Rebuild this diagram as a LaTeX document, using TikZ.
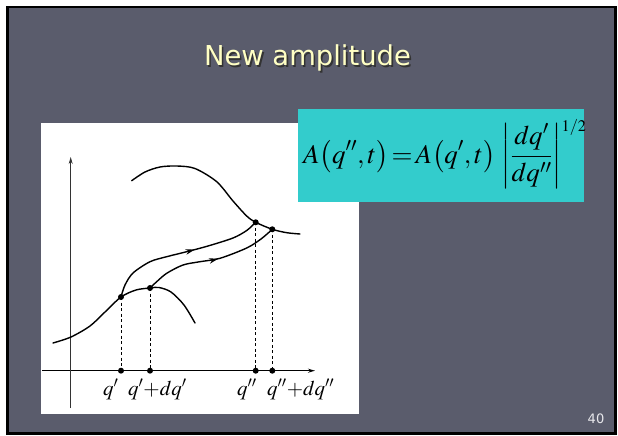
\documentclass[tikz,border=0pt]{standalone}
\usepackage[no-math]{fontspec}
\usepackage{mathptmx}
\newfontfamily\slidefont{DejaVu Sans}
\usetikzlibrary{arrows.meta,positioning,decorations.markings}
\definecolor{SlideGrey}{HTML}{5A5C6C}
\definecolor{SlideBlack}{HTML}{000000}
\definecolor{SlideTitle}{HTML}{FFFFC4}
\definecolor{SlideNumber}{HTML}{E8E8EC}
\definecolor{FormulaCyan}{HTML}{33CCCC}
\tikzset{
    % Slide frame
    slideframe/.style={
        draw=SlideBlack,
        fill=SlideGrey,
        line width=2.5pt
    },
    % Title text
    titletext/.style={
        anchor=base,
        inner sep=0pt,
        text=SlideTitle,
        font=\slidefont\fontsize{27.4}{30}\selectfont
    },
    % Title shadow
    titleshadow/.style={
        titletext,
        text=black!80
    },
    % White picture area
    imagebox/.style={
        fill=white,
        inner sep=0pt,
        minimum width=318pt,
        minimum height=291pt
    },
    % Formula box
    formulabox/.style={
        fill=FormulaCyan,
        inner sep=0pt,
        minimum width=286pt,
        minimum height=93pt
    },
    % Formula text
    formulatext/.style={
        anchor=base west,
        inner sep=0pt,
        font=\fontsize{27}{32}\selectfont
    },
    % Axis lines
    xaxis/.style={
        -{Stealth[length=7pt,width=4pt]},
        line width=1.4pt
    },
    yaxis/.style={
        -{Stealth[length=7pt,width=4pt]},
        line width=0.8pt,
        draw=black!80
    },
    % Curves
    curveline/.style={
        line width=1.4pt,
        line cap=round
    },
    % Trajectory with an arrow along it
    trajline/.style={
        curveline,
        postaction={decorate},
        decoration={markings,
            mark=at position #1 with {\arrow{Stealth[length=9pt,width=5.5pt]}}}
    },
    % Dashed drop to the axis
    dropline/.style={
        dashed,
        dash pattern=on 3pt off 2.5pt,
        line width=1pt
    },
    % Dot
    dotnode/.style={
        circle,
        fill=black,
        inner sep=0pt,
        minimum size=6pt
    },
    % Axis label
    qlabel/.style={
        anchor=base west,
        inner sep=0pt,
        font=\fontsize{21}{24}\selectfont
    },
    % Page number
    pagenum/.style={
        anchor=base,
        inner sep=0pt,
        text=SlideNumber,
        font=\slidefont\fontsize{13}{15}\selectfont
    }
}

\begin{document}
\begin{tikzpicture}[x=1pt,y=-1pt]
    \useasboundingbox (0,0) rectangle (618,436);
    \fill[white] (0,0) rectangle (618,436);
    \draw[slideframe] (7.5,7) rectangle (615.5,433.5);

    % title
    \node[titleshadow] (tshadow) at (309.2,67.7) {New amplitude};
    \node[titletext] (title) at (307.5,66) {New amplitude};

    % picture area and formula
    \node[imagebox] (img) at (200,268.5) {};
    \node[formulabox] (fbox) at (441,155.5) {};
    \node[formulatext] (formula) at (303,163)
        {$\displaystyle A\bigl(q'',t\bigr)\mskip2mu{=}\mskip2mu A\bigl(q',t\bigr)\,\left|\frac{dq'}{dq''}\right|^{\scriptscriptstyle 1/2}$};

    % axes
    \coordinate (xstart) at (42,370.7);
    \coordinate (xend) at (315,370.7);
    \coordinate (ybot) at (70.7,408);
    \coordinate (ytop) at (70.7,157);
    \draw[xaxis] (xstart) -- (xend);
    \draw[yaxis] (ybot) -- (ytop);

    % points on the curves and their feet
    \coordinate (P1) at (121,297);
    \coordinate (P2) at (150,288);
    \coordinate (P3) at (255.7,222.3);
    \coordinate (P4) at (272.3,229.3);
    \coordinate (Q1) at (121,370.7);
    \coordinate (Q2) at (150,370.7);
    \coordinate (Q3) at (255.7,370.7);
    \coordinate (Q4) at (272.3,370.7);

    % initial and final curves
    \draw[curveline] plot[smooth] coordinates {(53,343) (71,337) (90,326) (105,312) (P1) (136,290) (P2) (159,287.5) (171,292) (184,305) (195,323)};
    \draw[curveline] plot[smooth] coordinates {(131.7,180.7) (145,172) (160,167) (176.7,166) (195,168.5) (216.7,181.7) (233,201) (246.7,216) (P3) (P4) (286.7,232.7) (300,234)};

    % trajectories
    \draw[trajline=0.58] plot[smooth] coordinates {(P1) (125,285) (133,273) (150,261.7) (166.7,256.7) (186.7,251.7) (208,246) (233,238) (246.7,230.5) (P3)};
    \draw[trajline=0.55] plot[smooth] coordinates {(P2) (156.7,281.7) (166.7,273.3) (183,265) (200,261.7) (220,258.3) (246.7,248) (261,239) (P4)};

    % drops
    \foreach \i in {1,...,4}
        \draw[dropline] (P\i) -- (Q\i);
    \foreach \p in {P1,P2,P3,P4,Q1,Q2,Q3,Q4}
        \node[dotnode] (dot\p) at (\p) {};

    % labels
    \node[qlabel] (l1) at (103,395) {$q'$};
    \node[qlabel] (l2) at (128,395) {$q'{+}dq'$};
    \node[qlabel] (l3) at (237,395) {$q''$};
    \node[qlabel] (l4) at (267,395) {$q''{+}dq''$};

    \node[pagenum] (num) at (596,423) {40};
\end{tikzpicture}
\end{document}
